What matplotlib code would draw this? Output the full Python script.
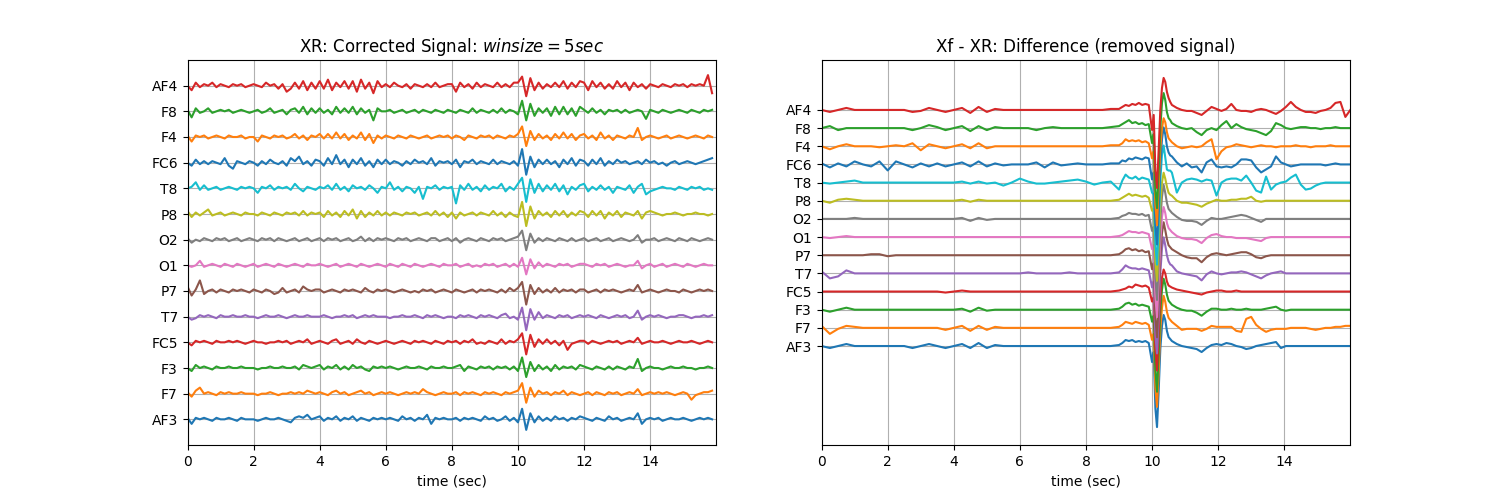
import numpy as np
import matplotlib
matplotlib.use("Agg")
import matplotlib.pyplot as plt

# channel names, bottom to top
channels = ['AF3', 'F7', 'F3', 'FC5', 'T7', 'P7', 'O1', 'O2', 'P8', 'T8', 'FC6', 'F4', 'F8', 'AF4']

# ---- corrected signal XR (one sample every 1/8 sec, rough amplitude) ----
xr_af3 = [1,-3,1,0,1,0,-1,1,0,0,1,0,-1,1,0,0,
          0,-1,0,1,0,0,1,0,-1,-2,1,2,1,3,0,1,
          2,-1,1,0,2,-1,1,0,2,-1,1,0,-1,1,0,1,
          0,1,0,-1,2,0,1,-1,1,0,3,-3,1,0,1,0,
          0,1,-1,1,0,1,0,-1,2,0,1,-1,0,2,-1,1,
          -2,7,-7,4,-2,2,-1,1,-1,2,0,1,-1,1,0,2,
          1,0,-1,1,0,-1,2,0,1,-1,0,1,0,4,-3,0,
          1,0,1,-1,0,1,0,0,1,0,-1,0,1,0,1,0]
xr_f7 = [1,-2,2,4,0,1,0,-1,1,0,1,0,0,1,0,0,
         0,-1,0,0,1,0,-1,0,0,1,0,1,0,2,1,0,
         1,0,-1,1,2,0,1,-1,0,1,2,0,1,-1,0,1,
         0,1,0,-1,0,1,0,1,0,3,1,0,-1,0,1,0,
         0,1,-1,1,0,1,0,-1,1,0,1,0,-1,1,0,1,
         2,7,-6,4,-2,2,0,1,-1,1,0,2,-1,1,0,-1,
         0,1,-1,1,0,-1,1,0,1,-1,0,1,0,3,-1,0,
         1,0,1,0,1,0,-1,0,1,0,-4,-1,0,1,1,2]
xr_f3 = [0,-2,2,0,1,0,-1,1,0,0,1,0,0,1,0,0,
         0,-1,0,0,1,0,0,1,0,0,1,-1,2,1,0,1,
         2,-1,1,0,2,-1,1,-1,2,0,1,-1,-2,1,0,1,
         0,1,0,-1,0,1,0,0,1,0,-1,1,0,0,1,0,
         0,1,2,-2,1,0,-1,1,0,1,-1,1,0,1,-1,1,
         -2,7,-6,4,-2,2,-1,1,-2,2,-1,1,0,1,-1,2,
         1,0,-1,1,0,-1,1,-1,1,0,-1,1,0,6,-2,0,
         1,0,0,-1,0,1,0,0,1,0,0,-1,0,0,1,0]
xr_fc5 = [0,-2,1,0,1,0,-1,1,0,0,1,0,1,0,-1,0,
          1,0,0,-1,0,0,1,0,1,-1,0,1,0,2,-1,0,
          1,0,-1,1,2,-1,0,1,-1,2,0,-1,1,0,-1,0,
          1,0,-1,0,1,0,-1,1,0,1,0,-1,1,0,-1,1,
          0,1,-1,1,0,2,-1,0,-1,1,0,-1,2,-1,1,0,
          2,6,-8,5,-3,2,-1,2,-1,1,-2,1,-5,-1,0,1,
          1,-1,1,0,-1,0,1,0,1,-1,0,1,0,3,-1,0,
          1,0,0,1,0,-1,0,1,0,0,1,0,-1,0,1,0]
xr_t7 = [0,-2,-1,1,0,1,0,-1,1,0,0,1,0,0,1,0,
         0,-1,0,1,0,0,1,0,-1,0,1,0,0,1,0,0,
         0,1,0,-1,0,0,1,0,1,-1,0,1,0,1,0,0,
         0,-1,0,0,1,0,0,1,0,-1,1,0,1,0,-1,0,
         0,-1,1,0,1,0,-1,1,0,1,0,-1,1,2,-1,0,
         -2,6,-9,5,-2,3,-1,1,0,-1,1,0,1,-1,0,1,
         0,1,0,-1,1,0,-1,0,1,0,1,-1,0,4,-2,0,
         1,0,1,0,-1,0,0,1,1,0,-1,0,0,1,0,1]
xr_p7 = [3,-3,1,7,-2,0,1,-1,1,0,-1,1,0,1,0,-1,
         1,0,-1,1,0,-2,-1,2,-1,0,1,-1,3,1,0,1,
         1,-1,0,1,0,-1,1,0,1,0,-1,2,0,-1,1,0,
         1,0,-1,0,1,0,-1,0,-1,1,0,1,-1,0,1,0,
         -1,1,0,-1,0,1,-1,1,0,1,0,-1,1,-1,2,0,
         2,6,-9,4,-2,2,-1,1,-1,2,-1,1,0,1,-1,1,
         1,-1,0,1,-1,1,0,1,0,-1,0,1,0,4,-1,0,
         1,0,-1,0,1,0,0,-1,1,0,-1,0,1,0,1,0]
xr_o1 = [0,-1,0,3,-1,0,1,0,-1,1,0,-1,1,0,-1,0,
         1,-1,0,1,0,-1,1,0,-1,0,1,0,-1,1,0,0,
         1,0,-1,0,1,-1,0,1,0,-1,1,0,-1,0,1,0,
         -1,1,0,-1,1,0,-1,1,0,-1,0,1,0,-1,1,0,
         0,1,-1,0,1,-1,0,-1,1,0,1,-1,0,1,-1,1,
         -1,5,-6,4,-2,2,-1,1,0,-1,1,0,1,-1,0,1,
         1,0,-1,1,0,1,-1,0,1,0,-1,0,0,3,-2,0,
         1,-1,0,1,-1,0,1,0,-1,1,0,-1,0,1,0,0]
xr_o2 = [1,-2,0,-1,1,0,-1,1,0,1,-1,0,1,-1,0,1,
         0,-1,1,0,1,-1,1,0,-1,0,1,-1,0,1,-1,0,
         1,-1,1,0,1,-1,0,1,-1,0,2,-1,1,-1,1,0,
         1,0,-1,1,0,1,-1,0,1,0,-1,1,1,-1,0,1,
         -1,1,-2,0,1,0,-1,1,0,-1,1,0,1,-1,0,1,
         2,6,-7,4,-2,1,-1,1,0,-1,1,0,-1,1,-1,0,
         1,-1,0,1,-1,0,1,-1,0,1,0,-1,0,3,-2,0,
         0,1,-1,0,1,0,-1,1,0,-1,1,0,-1,0,1,0]
xr_p8 = [2,-2,1,-1,1,3,-1,0,1,-1,0,1,0,-1,1,0,
         0,-1,1,0,-1,1,0,-1,1,0,1,-1,2,-1,1,0,
         1,-2,2,-1,1,-2,2,-1,3,-3,2,-2,1,-1,2,-1,
         1,-1,1,0,-1,1,0,1,-1,0,1,-1,2,-1,1,-2,
         1,-3,1,-1,0,1,-1,1,0,-1,2,-1,1,-2,1,-1,
         -2,8,-8,5,-3,2,-1,1,-2,2,-1,2,-2,1,-1,2,
         1,-2,2,-1,2,-3,1,-1,2,-2,1,0,-1,2,-3,1,
         2,1,0,-1,0,0,1,0,-1,0,0,1,0,0,-1,0]
xr_t8 = [0,1,4,-1,2,-1,0,1,-1,0,1,0,-1,1,0,1,
         0,-3,1,0,2,-1,1,0,1,-1,3,0,-2,1,0,-1,
         1,0,2,-1,3,-1,1,-2,2,0,1,-1,2,0,-3,1,
         0,4,-1,1,-2,1,0,-3,1,-7,1,0,2,-1,1,0,
         1,-10,2,-1,3,-1,1,-2,2,-1,1,0,3,-2,1,-1,
         3,7,-9,6,-3,3,-2,2,-1,3,-2,2,-4,1,-1,2,
         3,-2,1,-1,2,-1,1,-3,1,0,-1,2,-3,1,3,-4,
         -2,-1,0,1,0,0,-1,1,0,-1,1,0,1,-1,0,-1]
xr_fc6 = [0,-2,2,-1,1,-1,1,0,-1,3,-2,-4,1,0,-1,1,
          0,-2,1,-1,2,0,-1,1,-2,3,1,4,-1,1,-2,2,
          1,-2,3,-1,5,-1,2,-3,2,-1,3,-2,1,-3,2,-1,
          2,-1,1,0,-2,1,-1,2,0,1,-1,3,-2,1,0,1,
          -1,2,-3,1,0,2,-1,1,0,-1,2,-1,1,0,-1,1,
          -2,9,-8,4,-3,2,-1,2,-1,1,-3,2,-1,3,-2,2,
          1,-2,2,-1,3,-2,1,-1,2,0,1,-1,0,1,-1,2,
          0,1,-1,0,-2,0,1,-1,0,1,0,-1,0,1,2,3]
xr_f4 = [1,-3,1,0,1,-1,0,1,0,-1,1,0,0,1,-1,0,
         0,-3,1,0,-1,1,0,1,-1,0,2,-1,1,-2,1,0,
         2,-1,2,-1,3,-1,2,-2,1,-1,3,-2,2,-4,1,-1,
         1,0,-1,1,0,-1,1,0,-1,0,1,-1,0,1,0,1,
         -1,1,0,-2,1,0,-1,1,0,1,-1,1,0,-1,1,0,
         2,7,-6,4,-2,2,-1,1,-2,2,-1,3,-1,2,-2,1,
         2,-1,1,-2,3,-1,1,-2,1,0,-1,1,0,6,-2,0,
         1,0,-1,0,1,-1,0,1,0,-1,0,1,0,-1,1,0]
xr_f8 = [1,-4,2,-1,0,2,-1,0,1,0,1,-1,0,1,0,-1,
         0,1,-1,0,2,-1,0,1,-2,1,2,-1,3,-2,2,-1,
         2,-1,1,-2,3,-1,2,-1,3,-2,2,-1,1,-6,2,0,
         0,1,-1,0,1,-1,0,1,-1,1,0,-1,1,0,-1,1,
         0,-1,1,0,-1,2,-1,1,0,-1,1,-1,2,-1,1,0,
         -2,7,-6,5,-3,2,-1,2,-3,3,-2,3,-2,2,-3,3,
         1,-1,2,-1,1,-2,1,0,1,-1,1,-1,0,1,0,-5,
         1,0,-1,1,0,-1,0,1,0,-1,1,0,-1,1,0,1]
xr_af4 = [0,-3,2,-1,1,0,2,-1,1,0,-1,1,0,1,-1,0,
          1,0,-1,2,0,1,-2,1,-4,-2,2,-2,3,-3,2,-2,
          3,-2,4,-3,2,-1,3,-2,3,-4,4,-2,2,-5,3,-1,
          1,-1,2,0,-1,1,-2,1,0,-1,1,-1,2,-1,0,1,
          1,-4,2,-1,1,-2,2,-1,1,0,-1,2,-1,1,-1,2,
          2,6,-7,5,-3,2,-2,1,-1,2,-1,3,-2,2,-1,3,
          2,-3,3,-1,2,-2,1,-2,3,-1,2,-3,2,-1,1,-2,
          1,0,-1,1,0,-1,1,0,1,-1,1,0,1,0,7,-5]

xr = [xr_af3, xr_f7, xr_f3, xr_fc5, xr_t7, xr_p7, xr_o1, xr_o2,
      xr_p8, xr_t8, xr_fc6, xr_f4, xr_f8, xr_af4]
t_xr = np.arange(len(xr_af3)) / 8

# ---- difference Xf - XR (coarse far from the artefact, fine around 10 sec) ----
t_diff = np.concatenate([np.linspace(0, 8.75, 36), np.linspace(9, 9.9, 10),
                         np.linspace(10, 10.55, 12), np.linspace(10.6, 16.0, 37)])

d_af3 = [0,-2,0,2,0,0,0,0,0,0,0,-2, 0,2,0,-2,0,2,-2,3,-2,1,0,0, 0,0,0,0,0,0,0,0,0,0,0,0,
         1,3,6,5,6,4,5,4,5,3,
         -16,-6,-62,-81,-45,-3,20,31,26,15,9,7,
         5,2,0,-1,-2,-3,-6,-2,1,2,1,3, 2,0,-1,-3,-2,0,1,2,3,4,-2,0, 0,0,0,0,0,0,0,0,0,0,0,0, 0]
d_f7 = [2,-6,-1,2,1,0,0,0,0,0,0,0, 0,0,0,-2,0,2,-3,2,-2,1,0,0, 0,0,0,0,0,0,0,0,0,0,0,0,
        1,3,6,5,4,6,5,4,5,3,
        -12,-6,-60,-79,-44,-2,20,32,26,16,10,8,
        6,2,-2,-1,-1,-1,-3,-1,2,1,1,1, 1,-3,-4,9,11,3,-1,-4,-2,-1,-1,-1, 0,0,0,0,-1,-2,-1,0,0,1,1,2, 2]
d_f3 = [0,-2,0,2,0,0,0,0,0,0,0,0, 0,0,0,0,0,1,-2,2,-1,0,0,0, 0,0,0,0,0,0,0,0,0,0,0,0,
        1,3,6,7,5,6,4,5,4,3,
        -12,-6,-60,-82,-44,-2,20,31,25,15,9,7,
        5,2,0,-1,-1,-3,-6,-2,1,1,0,0, 1,0,0,1,0,0,0,1,2,3,0,-1, 0,0,0,0,0,0,0,0,0,0,0,0, 0]
d_fc5 = [0,0,0,0,0,0,0,0,0,0,0,0, 0,0,0,-1,0,1,0,0,0,0,0,0, 0,0,0,0,0,0,0,0,0,0,0,0,
         1,2,3,5,4,7,6,5,6,4,
         -10,-6,-58,-79,-42,-5,14,22,18,10,6,5,
         4,2,1,0,-1,-2,-3,-1,0,1,1,0, 0,1,0,0,0,0,0,0,0,0,0,0, 0,0,0,0,0,0,0,0,0,0,0,0, 0]
d_t7 = [2,-5,-3,3,0,0,0,0,0,0,0,0, 0,0,0,0,0,0,0,0,0,0,0,0, 0,1,0,0,0,0,1,0,0,0,0,0,
        1,4,8,6,5,5,4,5,4,3,
        -14,-8,-62,-80,-45,0,25,36,28,18,12,9,
        8,2,0,-1,-2,-3,-7,-1,2,0,-1,0, 1,1,2,1,-1,-3,-5,-2,0,1,2,0, 0,0,0,0,0,0,0,0,0,0,0,0, 0]
d_p7 = [0,0,0,0,0,0,1,1,-1,0,0,0, 0,0,0,0,0,0,0,0,0,0,0,0, 0,0,0,0,0,0,0,0,0,0,0,0,
        1,3,6,7,5,6,4,5,3,4,
        -14,-8,-62,-82,-46,-2,22,33,25,16,10,8,
        6,3,0,-2,-3,-3,-7,-2,1,2,1,0, 1,2,3,3,1,-2,-3,-1,0,0,0,0, 0,0,0,0,0,0,0,0,0,0,0,0, 0]
d_o1 = [0,-1,0,1,0,0,0,0,0,0,0,0, 0,0,0,0,0,0,0,0,0,0,0,0, 0,0,0,0,0,0,0,0,0,0,0,0,
        1,2,4,6,5,5,4,5,4,3,
        -12,-8,-60,-80,-44,-4,20,30,24,14,9,7,
        5,1,-1,-2,-2,-3,-6,-1,2,3,1,0, 0,-1,-1,-1,-2,-3,-4,-1,0,0,0,0, 0,0,0,0,0,0,0,0,0,0,0,0, 0]
d_o2 = [0,0,0,0,1,0,0,0,0,0,0,0, 0,0,0,0,0,1,-2,1,-1,0,0,0, 0,0,0,0,0,0,0,0,0,0,0,0,
        1,3,4,6,5,5,4,5,3,4,
        -12,-8,-60,-81,-45,-2,22,34,26,16,10,8,
        6,2,-1,-2,-2,-3,-6,-2,1,0,0,1, 2,3,4,3,1,-1,-3,0,0,0,0,0, 0,0,0,0,0,0,0,0,0,0,0,0, 0]
d_p8 = [0,-2,1,2,1,0,0,0,0,0,0,0, 0,0,0,0,0,1,-1,1,0,0,0,0, 0,0,0,0,0,0,0,0,0,0,0,0,
        1,3,5,7,5,6,5,4,5,3,
        -10,-8,-60,-80,-42,-3,18,28,22,14,8,6,
        5,0,-2,-2,-3,-4,-6,-3,-1,1,0,0, 1,1,2,2,4,0,-1,0,0,0,0,0, 0,0,0,0,0,0,0,0,0,0,0,0, 0]
d_t8 = [0,-1,0,1,2,0,0,0,0,0,0,0, 0,0,0,0,0,1,-1,1,-1,0,-3,0, 4,1,-1,-1,0,1,2,3,1,-2,0,1,
        -7,2,8,5,4,6,3,5,4,3,
        -10,-12,-62,-82,-45,2,28,37,25,13,12,12,
        10,-10,0,3,4,3,1,3,2,-13,0,3, 4,4,2,7,0,-8,-10,6,-7,-2,0,1, 5,8,-2,-7,-6,-3,-1,0,0,0,0,0, 0]
d_fc6 = [1,-3,1,-2,3,0,-2,3,-6,3,0,-3, 1,-2,1,-2,0,2,-2,3,-2,1,-1,0, 0,0,2,-3,2,-1,0,1,0,0,0,1,
         1,4,3,6,5,7,6,5,7,6,
         -15,-8,-60,-80,-45,0,25,37,30,18,12,9,
         8,2,-2,1,-3,-2,-8,2,5,-2,-3,-2, -3,0,5,5,4,-3,-8,-5,-2,8,2,0, -2,-1,0,0,0,0,0,-1,0,1,0,0, 0]
d_f4 = [0,-3,0,2,0,0,0,-1,0,1,0,3, -4,2,0,-2,0,2,-2,3,-2,0,0,0, 0,0,0,0,0,0,0,0,0,0,0,1,
        1,3,7,5,6,5,6,4,5,3,
        -12,-5,-58,-79,-40,-2,18,28,24,14,8,6,
        4,0,-2,-1,0,-1,0,4,7,-13,-5,-1, 0,2,1,0,-1,0,1,0,0,-1,0,0, 0,1,0,0,-1,0,0,0,1,0,0,0, 0]
d_f8 = [0,2,-2,0,0,0,0,0,0,0,0,-2, 0,3,1,-2,0,2,-3,2,-2,1,0,0, 0,0,-2,0,1,0,0,0,0,0,0,1,
        2,4,6,8,5,6,4,5,3,4,
        -15,-6,-62,-80,-42,0,25,35,28,16,10,8,
        5,2,0,-1,0,-4,-7,-2,0,-2,3,7, 0,4,1,-1,-2,-3,-5,-7,-3,5,3,0, -1,0,1,1,0,0,-1,0,0,1,0,0, 0]
d_af4 = [0,-2,0,2,0,0,0,0,0,0,0,-2, -1,2,0,-2,0,2,-3,3,-2,1,0,0, 0,0,0,0,0,0,0,0,0,0,0,1,
         1,3,5,4,6,5,7,5,6,5,
         -20,-5,-60,-78,-40,0,22,32,28,18,12,8,
         5,2,0,-1,-1,-3,-5,-1,3,1,-1,1, 6,0,-1,-1,-2,0,1,0,-2,-4,-1,3, 8,3,0,-2,-2,-3,-1,0,2,7,8,-7, 0]

diff = [d_af3, d_f7, d_f3, d_fc5, d_t7, d_p7, d_o1, d_o2,
        d_p8, d_t8, d_fc6, d_f4, d_f8, d_af4]

fig, (ax1, ax2) = plt.subplots(1, 2, figsize=(15, 5))

# left: corrected signal, one channel per unit offset
for i, sig in enumerate(xr):
    ax1.plot(t_xr, np.array(sig) / 17 + i)
ax1.set_yticks(range(len(channels)))
ax1.set_yticklabels(channels)
ax1.set_ylim(-1, len(channels))
ax1.set_xlim(0, 15.99)
ax1.set_xticks(range(0, 16, 2))
ax1.set_xlabel('time (sec)')
ax1.set_title('XR: Corrected Signal: $winsize=5sec$')
ax1.grid(True)

# right: removed part of the signal
for i, sig in enumerate(diff):
    ax2.plot(t_diff, np.array(sig) / 18.15 + i)
ax2.set_yticks(range(len(channels)))
ax2.set_yticklabels(channels)
ax2.set_ylim(-5.45, 15.75)
ax2.set_xlim(0, 15.99)
ax2.set_xticks(range(0, 16, 2))
ax2.set_xlabel('time (sec)')
ax2.set_title('Xf - XR: Difference (removed signal)')
ax2.grid(True)

plt.savefig('out.png', dpi=100)
